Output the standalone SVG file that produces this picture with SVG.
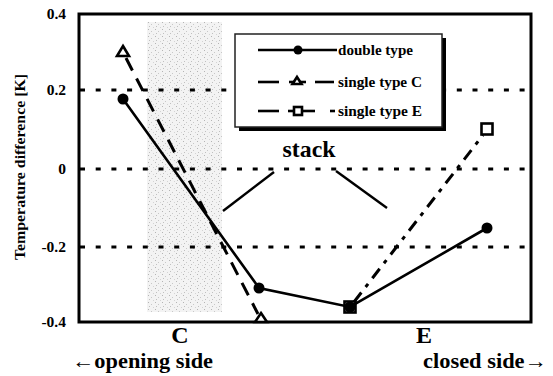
<svg xmlns="http://www.w3.org/2000/svg" width="553" height="376" viewBox="0 0 553 376">
  <defs>
    <!-- stippled fill for the stack zone -->
    <pattern id="stipple" width="7" height="7" patternUnits="userSpaceOnUse">
      <rect width="7" height="7" fill="#f3f3f3"/>
      <rect x="1" y="1" width="1" height="1" fill="#b4b4b4"/>
      <rect x="4" y="3" width="1" height="1" fill="#c8c8c8"/>
      <rect x="2" y="5" width="1" height="1" fill="#c0c0c0"/>
      <rect x="6" y="6" width="1" height="1" fill="#d4d4d4"/>
    </pattern>
    <style>
      .lbl { font-family: "Liberation Serif", "Times New Roman", serif; font-weight: bold; fill: #000; }
      .tick { font-size: 15.5px; text-anchor: end; }
      .grid { stroke: #000; stroke-width: 3; stroke-dasharray: 5 10.7; fill: none; }
      .frame { stroke: #000; stroke-width: 3; fill: none; }
      .solid { stroke: #000; stroke-width: 2.6; fill: none; }
      .dashC { stroke: #000; stroke-width: 3; fill: none; stroke-dasharray: 14 9; }
      .dashE { stroke: #000; stroke-width: 3; fill: none; stroke-dasharray: 12 7 4 7; }
      .mk-open { fill: #fff; stroke: #000; stroke-width: 2.6; }
      .mk-fill { fill: #000; stroke: none; }
      .lead { stroke: #000; stroke-width: 2.4; }
      .leg { font-size: 14.5px; }
    </style>
  </defs>

  <rect width="553" height="376" fill="#fff"/>

  <!-- stack zone -->
  <g id="zone-C">
    <rect x="147" y="22" width="75" height="290" fill="url(#stipple)"/>
  </g>

  <!-- gridlines -->
  <g id="grid">
    <line class="grid" x1="80" y1="90" x2="531" y2="90"/>
    <line class="grid" x1="80" y1="169" x2="531" y2="169"/>
    <line class="grid" x1="80" y1="247" x2="531" y2="247"/>
  </g>

  <!-- plot frame -->
  <rect id="frame" class="frame" x="79" y="14" width="452" height="308"/>

  <!-- axis labels -->
  <g id="y-axis">
    <text class="lbl tick" x="66" y="19">0.4</text>
    <text class="lbl tick" x="66" y="95">0.2</text>
    <text class="lbl tick" x="66" y="174">0</text>
    <text class="lbl tick" x="66" y="252">-0.2</text>
    <text class="lbl tick" x="66" y="327">-0.4</text>
    <text class="lbl" font-size="15" text-anchor="middle" transform="translate(25,167) rotate(-90)" textLength="186" lengthAdjust="spacingAndGlyphs">Temperature difference [K]</text>
  </g>
  <g id="x-axis">
    <text class="lbl" font-size="24" text-anchor="middle" x="180" y="343">C</text>
    <text class="lbl" font-size="24" text-anchor="middle" x="424" y="343">E</text>
    <text class="lbl" font-size="20" x="72" y="368" textLength="141" lengthAdjust="spacingAndGlyphs">←opening side</text>
    <text class="lbl" font-size="20" x="423" y="368" textLength="124" lengthAdjust="spacingAndGlyphs">closed side→</text>
  </g>

  <!-- data series -->
  <g id="connectors">
    <polyline id="series-double" class="solid" points="123,99 259,288 350,307 487,228"/>
    <line id="series-single-C" class="dashC" x1="126" y1="58" x2="258" y2="314"/>
    <line id="series-single-E" class="dashE" x1="354" y1="302" x2="483" y2="135"/>
  </g>

  <g id="markers-double">
    <circle class="mk-fill" cx="123" cy="99" r="5.5"/>
    <circle class="mk-fill" cx="259" cy="288" r="5.5"/>
    <circle class="mk-fill" cx="350" cy="307" r="5.5"/>
    <circle class="mk-fill" cx="487" cy="228" r="5.5"/>
  </g>
  <g id="markers-single-C">
    <polygon class="mk-open" points="123,46 129,56 117,56"/>
    <polygon class="mk-open" points="261,313 267,322 255,322"/>
  </g>
  <g id="markers-single-E">
    <rect class="mk-open" x="344.5" y="301.5" width="11" height="11" style="fill:none"/>
    <rect class="mk-open" x="481.5" y="123.5" width="11" height="11"/>
  </g>

  <!-- stack annotation -->
  <g id="stack-label">
    <text class="lbl" font-size="23" text-anchor="middle" x="309" y="157" textLength="53" lengthAdjust="spacingAndGlyphs">stack</text>
    <line class="lead" x1="223" y1="211" x2="274" y2="172"/>
    <line class="lead" x1="336" y1="171" x2="387" y2="208"/>
  </g>

  <!-- legend -->
  <g id="legend">
    <rect x="239" y="38" width="207" height="93" fill="#000"/>
    <rect x="235" y="34" width="207" height="93" fill="#fff" stroke="#222" stroke-width="1.5"/>
    <g id="legend-double">
      <line class="solid" x1="258" y1="50" x2="337" y2="50"/>
      <circle class="mk-fill" cx="298" cy="50" r="4.5"/>
      <text class="lbl leg" x="338" y="55" textLength="75" lengthAdjust="spacingAndGlyphs">double type</text>
    </g>
    <g id="legend-single-C">
      <line class="solid" stroke-width="3" x1="258" y1="82" x2="279" y2="82"/>
      <line class="solid" stroke-width="3" x1="289" y1="82" x2="306" y2="82"/>
      <line class="solid" stroke-width="3" x1="315" y1="82" x2="334" y2="82"/>
      <polygon class="mk-open" stroke-width="2.2" points="297,77 301.5,84 292.5,84"/>
      <text class="lbl leg" x="338" y="87" textLength="84" lengthAdjust="spacingAndGlyphs">single type C</text>
    </g>
    <g id="legend-single-E">
      <line class="solid" stroke-width="3" x1="258" y1="111" x2="279" y2="111"/>
      <line class="solid" stroke-width="3" x1="288" y1="111" x2="315" y2="111"/>
      <line class="solid" stroke-width="3" x1="330" y1="111" x2="335" y2="111"/>
      <rect class="mk-open" stroke-width="2.2" x="294" y="107" width="8" height="8"/>
      <text class="lbl leg" x="338" y="116" textLength="84" lengthAdjust="spacingAndGlyphs">single type E</text>
    </g>
  </g>
</svg>
